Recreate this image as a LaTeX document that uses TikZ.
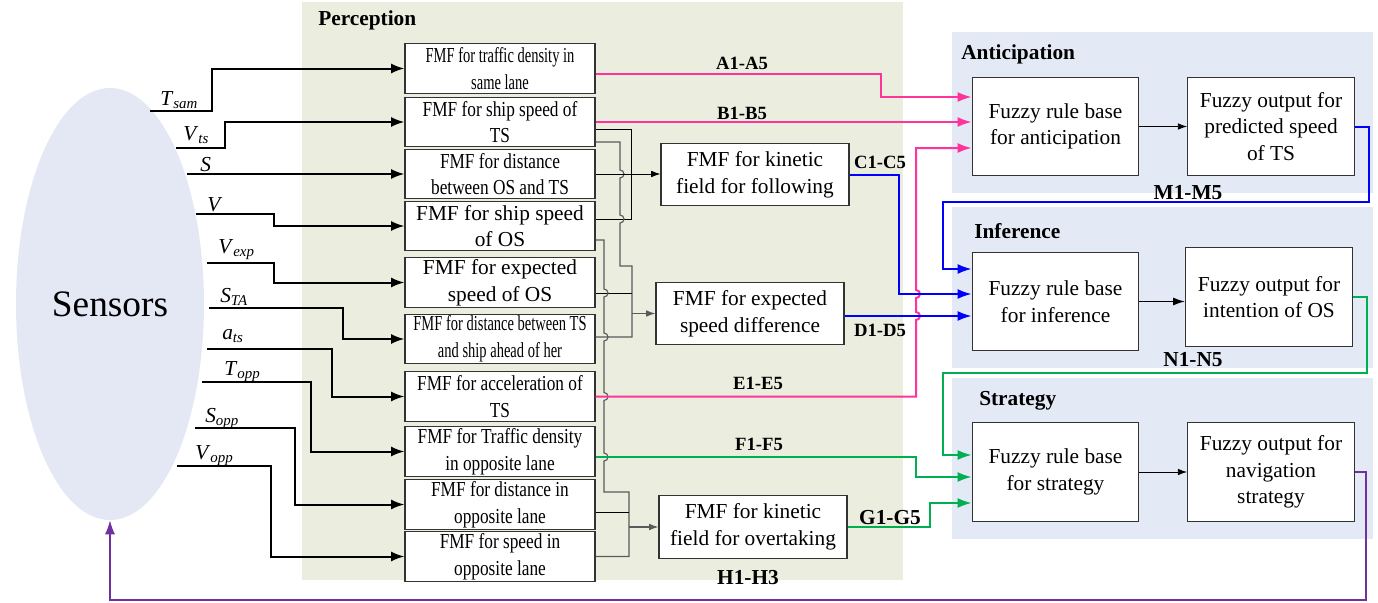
\documentclass[tikz,border=0pt]{standalone}
\usepackage{fontspec}
\setmainfont{Liberation Serif}
\newfontfamily\narrowA[FakeStretch=0.68]{Liberation Serif}
\newfontfamily\narrowB[FakeStretch=0.81]{Liberation Serif}
\usetikzlibrary{arrows.meta,shapes.geometric}
\definecolor{percbg}{HTML}{EBEDDF}
\definecolor{panelbg}{HTML}{E4EAF5}
\definecolor{sensbg}{HTML}{E3E8F4}
\definecolor{linkpink}{HTML}{FF3399}
\definecolor{linkblue}{HTML}{0000FF}
\definecolor{linkgreen}{HTML}{00B050}
\definecolor{linkpurple}{HTML}{7030A0}
\definecolor{wiregray}{HTML}{5A5A5A}
\newcommand{\sig}[2]{\textit{#1}\textsubscript{\textit{#2}}}

\begin{document}
\begin{tikzpicture}[x=0.75pt,y=-0.75pt]
\tikzset{
  fmfbox/.style={draw=black!80,fill=white,line width=0.8pt,minimum width=142.5pt,minimum height=37pt,inner sep=1pt,align=center,font=\fontsize{16}{20}\selectfont},
  narrowa/.style={fmfbox,font=\fontsize{16}{20}\selectfont\narrowA},
  narrowb/.style={fmfbox,font=\fontsize{16}{20}\selectfont\narrowB},
  midbox/.style={fmfbox,minimum width=141pt,minimum height=47pt},
  rulebox/.style={fmfbox,minimum width=125pt,minimum height=74pt},
  grouplabel/.style={font=\bfseries\fontsize{16}{19}\selectfont,inner sep=0pt},
  codelabel/.style={font=\bfseries\fontsize{14}{16}\selectfont,inner sep=0pt},
  sensorlabel/.style={anchor=base west,inner sep=0pt,font=\fontsize{16}{19}\selectfont},
  sensorwire/.style={draw=black,line width=1.5pt,-{Latex[length=10pt,width=7.5pt]}},
  wire/.style={draw=black,line width=0.7pt},
  greywire/.style={draw=wiregray,line width=0.85pt},
  smallarrow/.style={-{Latex[length=7pt,width=5pt]}},
  link/.style={line width=1.5pt,-{Latex[length=10.5pt,width=7.5pt]}}
}
\useasboundingbox (0,0) rectangle (1378,603);
% panels
\fill[percbg] (302,2) rectangle (903,580);
\fill[panelbg] (952,32) rectangle (1373,193);
\fill[panelbg] (952,207) rectangle (1373,368);
\fill[panelbg] (952,378) rectangle (1373,539);
\node[grouplabel,anchor=west] (t_perc) at (318,20) {Perception};
\node[grouplabel,anchor=west] (t_ant) at (961,54) {Anticipation};
\node[grouplabel,anchor=west] (t_inf) at (974,231) {Inference};
\node[grouplabel,anchor=west] (t_str) at (979,401) {Strategy};
% sensors
\node[ellipse,fill=sensbg,inner sep=0pt,minimum width=141pt,minimum height=324pt,font=\fontsize{28}{32}\selectfont] (n_sens) at (110,304) {Sensors};
% perception boxes
\node[narrowa] (n_b1) at (500,68.5) {FMF for traffic density in\\same lane};
\node[narrowb] (n_b2) at (500,122) {FMF for ship speed of\\TS};
\node[narrowb] (n_b3) at (500,174) {FMF for distance\\between OS and TS};
\node[fmfbox] (n_b4) at (500,226) {FMF for ship speed\\of OS};
\node[fmfbox] (n_b5) at (500,282.5) {FMF for expected\\speed of OS};
\node[narrowa] (n_b6) at (500,339) {FMF for distance between TS\\and ship ahead of her};
\node[narrowb] (n_b7) at (500,396.5) {FMF for acceleration of\\TS};
\node[narrowb] (n_b8) at (500,451.5) {FMF for Traffic density\\in opposite lane};
\node[narrowb] (n_b9) at (500,504.5) {FMF for distance in\\opposite lane};
\node[narrowb] (n_b10) at (500,556.5) {FMF for speed in\\opposite lane};
\node[midbox] (n_kinf) at (755,174.5) {FMF for kinetic\\field for following};
\node[midbox] (n_expd) at (750,313.5) {FMF for expected\\speed difference};
\node[midbox] (n_kino) at (753,527) {FMF for kinetic\\field for overtaking};
% rule bases and outputs
\node[rulebox] (n_rant) at (1055.5,126.5) {Fuzzy rule base\\for anticipation};
\node[rulebox] (n_oant) at (1271,126.5) {Fuzzy output for\\predicted speed\\of TS};
\node[rulebox] (n_rinf) at (1055.5,301.5) {Fuzzy rule base\\for inference};
\node[rulebox] (n_oinf) at (1269,297) {Fuzzy output for\\intention of OS};
\node[rulebox] (n_rstr) at (1055.5,472) {Fuzzy rule base\\for strategy};
\node[rulebox] (n_ostr) at (1271,472) {Fuzzy output for\\navigation\\strategy};
% sensor signals
\coordinate (s_tsam) at (150,111);
\coordinate (s_vts) at (176,148);
\coordinate (s_s) at (187,174);
\coordinate (s_v) at (196,214);
\coordinate (s_vexp) at (207,263);
\coordinate (s_sta) at (209,308);
\coordinate (s_ats) at (207,349);
\coordinate (s_topp) at (202,382);
\coordinate (s_sopp) at (195,428);
\coordinate (s_vopp) at (177,466);
\node[sensorlabel] (l_tsam) at (160,105) {\sig{T}{sam}};
\node[sensorlabel] (l_vts) at (183,140) {\sig{V}{ts}};
\node[sensorlabel] (l_s) at (200,171) {\textit{S}};
\node[sensorlabel] (l_v) at (207,211) {\textit{V}};
\node[sensorlabel] (l_vexp) at (218,253) {\sig{V}{exp}};
\node[sensorlabel] (l_sta) at (220,302) {\sig{S}{TA}};
\node[sensorlabel] (l_ats) at (222,339) {\sig{a}{ts}};
\node[sensorlabel] (l_topp) at (224,375) {\sig{T}{opp}};
\node[sensorlabel] (l_sopp) at (205,422) {\sig{S}{opp}};
\node[sensorlabel] (l_vopp) at (195,459) {\sig{V}{opp}};
\draw[sensorwire] (s_tsam) -- (212,111) |- (n_b1.west);
\draw[sensorwire] (s_vts) -- (225,148) |- (n_b2.west);
\draw[sensorwire] (s_s) -- (n_b3.west);
\draw[sensorwire] (s_v) -- (274,214) |- (n_b4.west);
\draw[sensorwire] (s_vexp) -- (274,263) |- (n_b5.west);
\draw[sensorwire] (s_sta) -- (343,308) |- (n_b6.west);
\draw[sensorwire] (s_ats) -- (332,349) |- (n_b7.west);
\draw[sensorwire] (s_topp) -- (311,382) |- (n_b8.west);
\draw[sensorwire] (s_sopp) -- (295,428) |- (n_b9.west);
\draw[sensorwire] (s_vopp) -- (271,466) |- (n_b10.west);
% merging into the middle boxes
\draw[wire] (n_b2.east |- 0,129) -- (631,129) -- (631,219) -- (n_b4.east |- 0,219);
\draw[greywire] (n_b2.east |- 0,142) -- (620,142) -- (620,170) arc[start angle=-90,end angle=90,radius=4]
  -- (620,215) arc[start angle=-90,end angle=90,radius=4] -- (620,266) -- (632,266) -- (632,337) -- (n_b6.east |- 0,337);
\draw[wire,smallarrow] (n_b3.east) -- (n_kinf.west |- n_b3.east);
\draw[wire] (n_b5.east |- 0,293) -- (632,293);
\draw[greywire,smallarrow] (632,313.5) -- (n_expd.west);
\draw[greywire] (n_b4.east |- 0,240) -- (604,240) -- (604,289) arc[start angle=-90,end angle=90,radius=4]
  -- (604,333) arc[start angle=-90,end angle=90,radius=4]
  -- (604,392.5) arc[start angle=-90,end angle=90,radius=4]
  -- (604,453) arc[start angle=-90,end angle=90,radius=4] -- (604,492) -- (629,492) -- (629,556.5) -- (n_b10.east);
\draw[wire] (n_b9.east |- 0,512) -- (629,512);
\draw[greywire,smallarrow] (629,527) -- (n_kino.west);
% inside the panels
\draw[wire,smallarrow] (n_rant.east) -- (n_oant.west);
\draw[line width=1.3pt,-{Latex[length=9pt,width=6pt]}] (n_rinf.east) -- (n_rinf.east -| n_oinf.west);
\draw[wire,smallarrow] (n_rstr.east) -- (n_ostr.west);
% coloured links
\draw[link,linkpink] ([yshift=-4pt]n_b1.east) -| (881,97) -- (n_rant.west |- 0,97);
\draw[link,linkpink] (n_b2.east) -- (n_b2.east -| n_rant.west);
\draw[link,linkpink] (n_b7.east) -- (916,396.5) -- (916,320) arc[start angle=90,end angle=-90,radius=4]
  -- (916,298) arc[start angle=90,end angle=-90,radius=4] -- (916,148) -- (n_rant.west |- 0,148);
\draw[link,linkblue] (n_kinf.east) -| (899,294) -- (n_rinf.west |- 0,294);
\draw[link,linkblue] (n_expd.east |- 0,316) -- (n_rinf.west |- 0,316);
\draw[link,linkblue] (n_oant.east) -| (1369,202) -| (943,269) -- (n_rinf.west |- 0,269);
\draw[link,linkgreen] (n_b8.east |- 0,457) -| (916,477) -- (n_rstr.west |- 0,477);
\draw[link,linkgreen] (n_kino.east) -| (930,503) -- (n_rstr.west |- 0,503);
\draw[link,linkgreen] (n_oinf.east) -| (1367,373) -| (943,455) -- (n_rstr.west |- 0,455);
\draw[link,linkpurple,line width=1.2pt] (n_ostr.east) -| (1366,600) -| (n_sens.south);
% link labels
\node[codelabel] (t_a) at (742,63) {A1-A5};
\node[codelabel] (t_b) at (742,113) {B1-B5};
\node[codelabel] (t_c) at (880,162) {C1-C5};
\node[codelabel] (t_d) at (880,330) {D1-D5};
\node[codelabel] (t_e) at (758,383) {E1-E5};
\node[codelabel] (t_f) at (759,444) {F1-F5};
\node[grouplabel] (t_g) at (890,518) {G1-G5};
\node[grouplabel] (t_h) at (748,578) {H1-H3};
\node[grouplabel] (t_m) at (1188,193) {M1-M5};
\node[grouplabel] (t_n) at (1193,360) {N1-N5};
\end{tikzpicture}
\end{document}
